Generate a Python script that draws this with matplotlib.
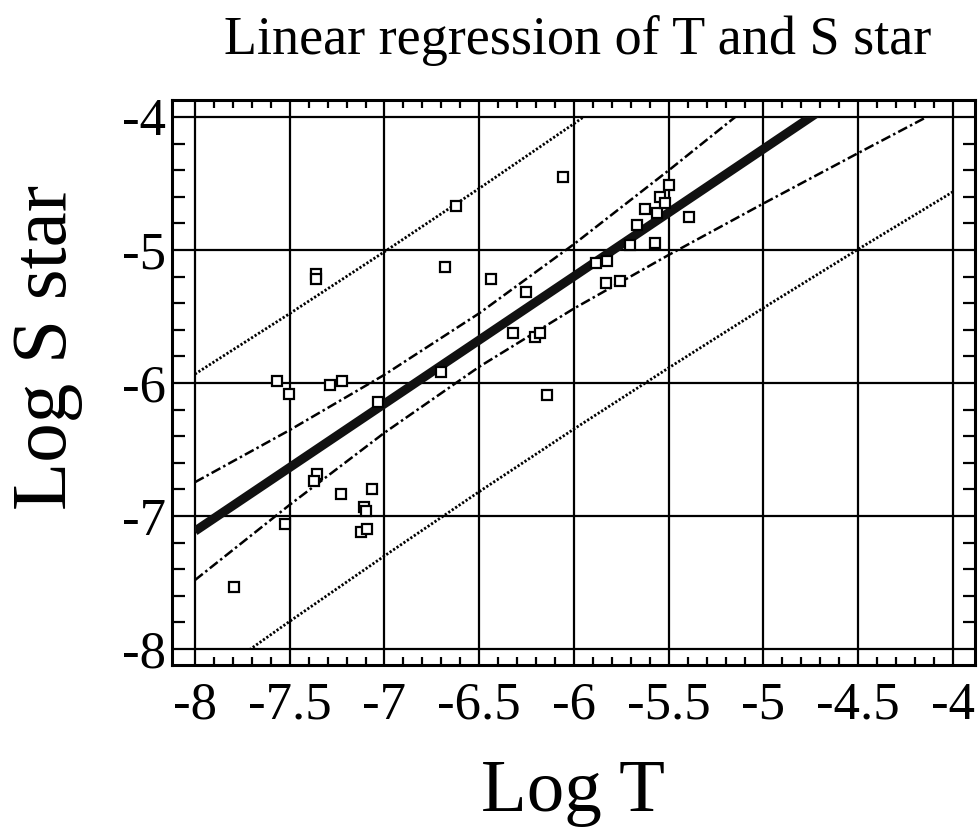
import matplotlib
matplotlib.use("Agg")
import matplotlib.pyplot as plt
import numpy as np
from matplotlib.patches import Rectangle
from matplotlib.ticker import FixedLocator

plt.rcParams['font.family'] = ['Liberation Serif', 'DejaVu Serif']
plt.rcParams['axes.unicode_minus'] = False

# data points (Log T, Log S star)
log_t = np.array([-7.794, -7.567, -7.504, -7.525, -7.356, -7.372, -7.230, -7.288,
                  -7.224, -7.066, -7.108, -7.098, -7.124, -7.092, -7.034, -7.361,
                  -7.361, -6.681, -6.623, -6.438, -6.322, -6.253, -6.206, -6.179,
                  -6.142, -6.702, -6.058, -5.884, -5.826, -5.831, -5.757, -5.704,
                  -5.668, -5.625, -5.573, -5.562, -5.546, -5.520, -5.499, -5.393])
log_s = np.array([-7.534, -5.985, -6.083, -7.060, -6.684, -6.737, -6.835, -6.015,
                  -5.985, -6.797, -6.932, -6.962, -7.120, -7.098, -6.143, -5.180,
                  -5.218, -5.128, -4.669, -5.218, -5.624, -5.316, -5.654, -5.624,
                  -6.090, -5.917, -4.451, -5.098, -5.083, -5.248, -5.233, -4.962,
                  -4.812, -4.692, -4.947, -4.722, -4.602, -4.647, -4.511, -4.752])

# regression line and bands, read at these x positions
band_x = [-8.0, -7.5, -7.0, -6.5, -6.0, -5.5, -5.0, -4.5, -4.0]
fit_y = [-7.114, -6.635, -6.156, -5.677, -5.198, -4.719, -4.240, -3.761, -3.282]
conf_hi = [-6.746, -6.354, -5.938, -5.476, -4.956, -4.401, -3.830, -3.251, -2.668]
conf_lo = [-7.482, -6.916, -6.374, -5.878, -5.440, -5.037, -4.650, -4.271, -3.896]
pred_hi = [-5.933, -5.478, -5.013, -4.537, -4.050, -3.552, -3.045, -2.528, -2.003]
pred_lo = [-8.295, -7.792, -7.300, -6.817, -6.346, -5.886, -5.435, -4.994, -4.562]

x_ticks = [-8, -7.5, -7, -6.5, -6, -5.5, -5, -4.5, -4]
y_ticks = [-4, -5, -6, -7, -8]

fig = plt.figure(figsize=(9.79, 8.31), dpi=100)
ax = fig.add_axes([0.1757, 0.1998, 0.8202, 0.6799])

ax.set_xlim(-8.121, -3.884)
ax.set_ylim(-8.12, -3.872)

clip = Rectangle((-8, -8), 4, 4, transform=ax.transData)

lines = []
lines += ax.plot(band_x, pred_hi, color='black', lw=2, ls=(0, (0.8, 0.7)))
lines += ax.plot(band_x, pred_lo, color='black', lw=2, ls=(0, (0.8, 0.7)))
lines += ax.plot(band_x, conf_hi, color='black', lw=1.8, ls=(0, (4, 1.3, 1, 1.3)))
lines += ax.plot(band_x, conf_lo, color='black', lw=1.8, ls=(0, (4, 1.3, 1, 1.3)))
lines += ax.plot(band_x, fit_y, color='#111111', lw=6.5, solid_capstyle='butt')
for ln in lines:
    ln.set_clip_path(clip)

ax.plot(log_t, log_s, 's', ms=6.5, mfc='white', mec='black', mew=1.6, zorder=5)

ax.set_xticks(x_ticks)
ax.set_xticklabels(['-8', '-7.5', '-7', '-6.5', '-6', '-5.5', '-5', '-4.5', '-4'])
ax.set_yticks(y_ticks)
ax.set_yticklabels(['-4', '-5', '-6', '-7', '-8'])
ax.xaxis.set_minor_locator(FixedLocator(np.arange(-8, -3.95, 0.1)))
ax.yaxis.set_minor_locator(FixedLocator(np.arange(-8, -3.95, 0.2)))
ax.tick_params(which='major', length=0, labelsize=38, pad=12)
ax.tick_params(axis='y', which='major', pad=4)
ax.tick_params(which='minor', direction='in', length=6, width=1.6,
               top=True, right=True, bottom=True, left=True)
ax.tick_params(axis='y', which='minor', length=9)
ax.grid(True, which='major', color='black', lw=1.6)
ax.set_axisbelow(True)
for sp in ax.spines.values():
    sp.set_linewidth(2.2)

fig.text(0.590, 0.935, 'Linear regression of T and S star', ha='center',
         va='baseline', fontsize=39)
fig.text(0.585, 0.024, 'Log T', ha='center', va='baseline', fontsize=54)
fig.text(0.048, 0.582, 'Log S star', ha='center', va='center', rotation=90,
         fontsize=57)

fig.savefig('out.png', dpi=100)
